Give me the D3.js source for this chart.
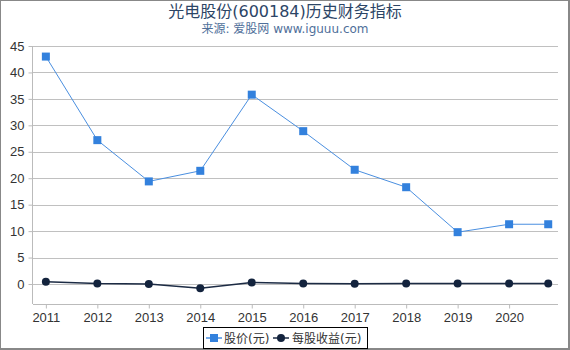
<!DOCTYPE html>
<html>
<head>
<meta charset="utf-8">
<script src="https://cdn.jsdelivr.net/npm/d3@7"></script>
<style>
  body { margin: 0; background: #fff; }
  svg { display: block; font-family: "DejaVu Sans", "Noto Sans CJK SC", sans-serif; }
</style>
</head>
<body>
<svg id="canvas" width="570" height="350"></svg>
<script>
let years = [2011, 2012, 2013, 2014, 2015, 2016, 2017, 2018, 2019, 2020, 2020.76];
let tickYears = [2011, 2012, 2013, 2014, 2015, 2016, 2017, 2018, 2019, 2020];
let price = [43.0, 27.2, 19.4, 21.4, 35.8, 28.9, 21.6, 18.3, 9.8, 11.3, 11.3];
let eps = [0.45, 0.1, 0.0, -0.8, 0.3, 0.1, 0.05, 0.1, 0.1, 0.1, 0.1];
let yTicks = [0, 5, 10, 15, 20, 25, 30, 35, 40, 45];

let svg = d3.select('#canvas');

// frame
svg.append('rect').attr('x', 0.5).attr('y', 0.5).attr('width', 568).attr('height', 348)
  .attr('fill', 'none').attr('stroke', '#888').attr('stroke-width', 1);
svg.append('line').attr('x1', 569).attr('x2', 569).attr('y1', 0).attr('y2', 350)
  .attr('stroke', '#888').attr('stroke-width', 2);
svg.append('line').attr('x1', 0).attr('x2', 570).attr('y1', 349).attr('y2', 349)
  .attr('stroke', '#888').attr('stroke-width', 2);

let x = d3.scaleLinear().domain([2010.75, 2020.95]).range([33, 558]);
let y = d3.scaleLinear().domain([-3.78, 45]).range([304, 46]);

// grid
svg.append('g').selectAll('line').data(yTicks).enter().append('line')
  .attr('x1', 33).attr('x2', 558)
  .attr('y1', d => Math.round(y(d)) + 0.5).attr('y2', d => Math.round(y(d)) + 0.5)
  .attr('stroke', '#c0c0c0').attr('stroke-width', 1);

// y axis
let yAxis = svg.append('g').attr('transform', 'translate(32.5,0)')
  .call(d3.axisLeft(y).tickValues(yTicks).tickSize(4).tickPadding(4));
yAxis.select('.domain').attr('stroke', '#bbb').attr('d', 'M0,46V304');
yAxis.selectAll('.tick line').attr('stroke', '#bbb');
yAxis.selectAll('text').attr('fill', '#333').style('font-size', '13px');

// x axis
let xAxis = svg.append('g').attr('transform', 'translate(0,304.5)')
  .call(d3.axisBottom(x).tickValues(tickYears).tickFormat(d3.format('d')).tickSize(4).tickPadding(4));
xAxis.select('.domain').attr('stroke', '#bbb').attr('d', 'M33,0H558');
xAxis.selectAll('.tick line').attr('stroke', '#bbb');
xAxis.selectAll('text').attr('fill', '#333').style('font-size', '13px');

let line = d3.line().x((d, i) => x(years[i])).y(d => y(d));

// EPS
svg.append('path').datum(eps).attr('d', line)
  .attr('fill', 'none').attr('stroke', '#1c2b44').attr('stroke-width', 1.5);
svg.append('g').selectAll('circle').data(eps).enter().append('circle')
  .attr('cx', (d, i) => x(years[i])).attr('cy', d => y(d)).attr('r', 4)
  .attr('fill', '#13233d');

// price
svg.append('path').datum(price).attr('d', line)
  .attr('fill', 'none').attr('stroke', '#4a8fe0').attr('stroke-width', 1);
svg.append('g').selectAll('rect').data(price).enter().append('rect')
  .attr('x', (d, i) => x(years[i]) - 4).attr('y', d => y(d) - 4)
  .attr('width', 8).attr('height', 8)
  .attr('fill', '#3381dd');

// titles
svg.append('text').attr('x', 285).attr('y', 17).attr('text-anchor', 'middle')
  .attr('fill', '#2c4566').style('font-size', '16px').text('光电股份(600184)历史财务指标');
svg.append('text').attr('x', 285).attr('y', 33).attr('text-anchor', 'middle')
  .attr('fill', '#4f6f9a').style('font-size', '12px').text('来源: 爱股网 www.iguuu.com');

// legend
let lg = svg.append('g').attr('transform', 'translate(203,327)');
lg.append('rect').attr('x', 0.5).attr('y', 0.5).attr('width', 164).attr('height', 21)
  .attr('fill', '#fff').attr('stroke', '#000').attr('stroke-width', 1);
lg.append('line').attr('x1', 3).attr('x2', 19).attr('y1', 11).attr('y2', 11)
  .attr('stroke', '#4a8fe0').attr('stroke-width', 1.5);
lg.append('rect').attr('x', 7).attr('y', 7).attr('width', 8).attr('height', 8).attr('fill', '#3381dd');
lg.append('text').attr('x', 21).attr('y', 16).attr('fill', '#333').style('font-size', '12px').text('股价(元)');
lg.append('line').attr('x1', 70).attr('x2', 86).attr('y1', 11).attr('y2', 11)
  .attr('stroke', '#1c2b44').attr('stroke-width', 1.5);
lg.append('circle').attr('cx', 78).attr('cy', 11).attr('r', 4).attr('fill', '#13233d');
lg.append('text').attr('x', 89).attr('y', 16).attr('fill', '#333').style('font-size', '12px').text('每股收益(元)');
</script>
</body>
</html>
